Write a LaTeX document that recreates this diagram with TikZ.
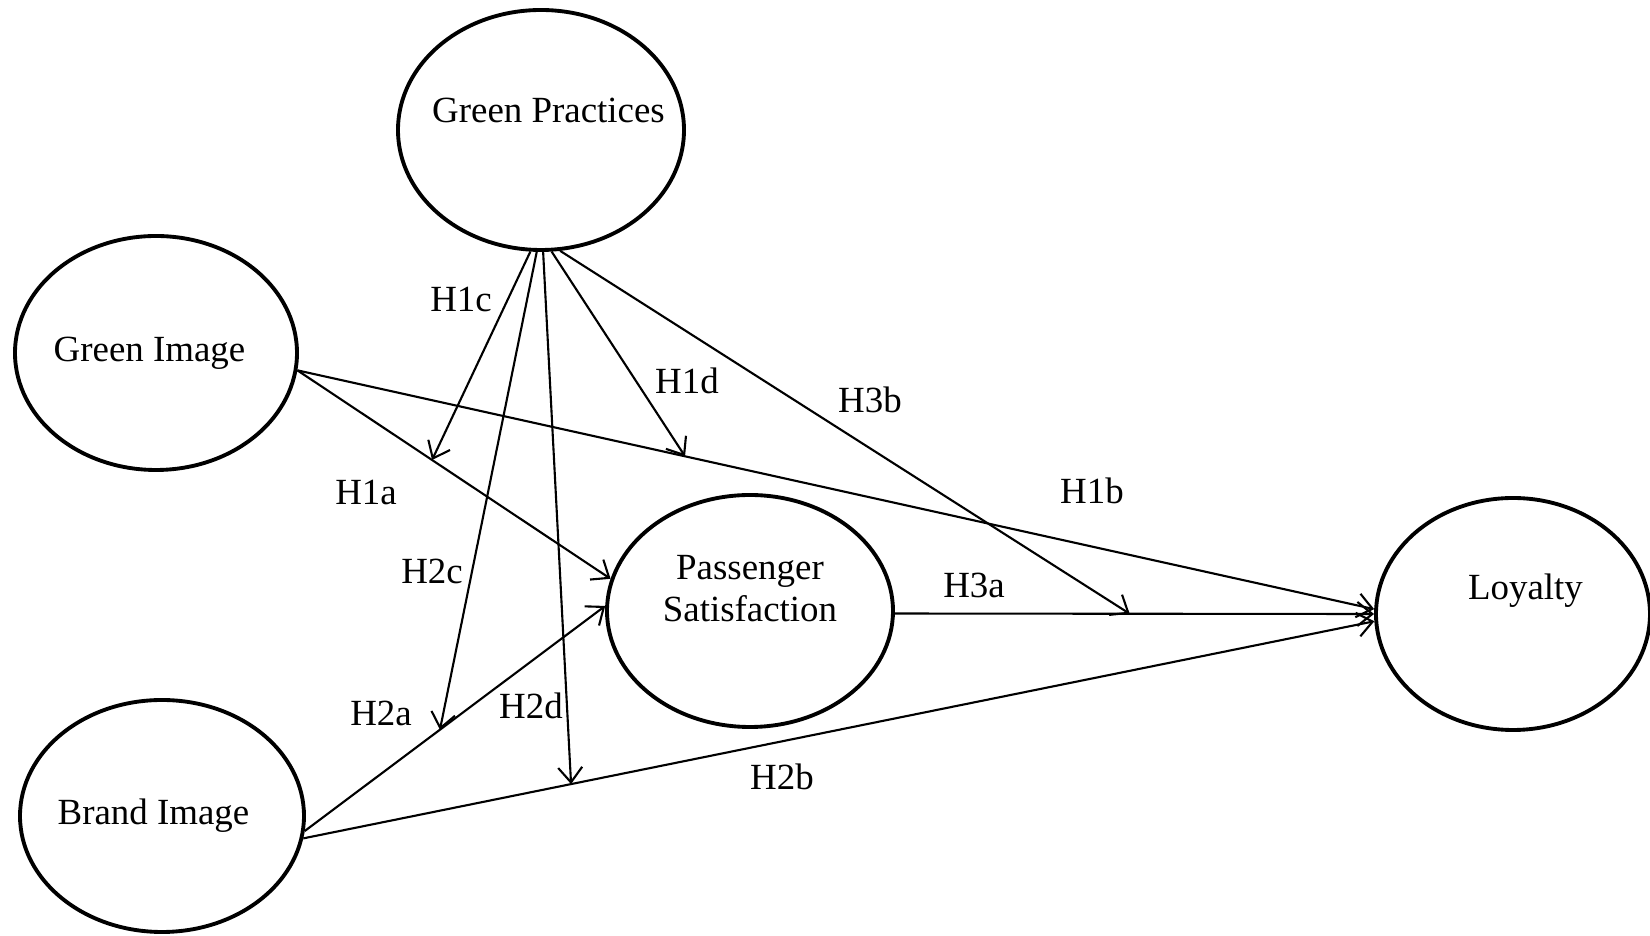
\documentclass[tikz,border=0pt]{standalone}
\usepackage{fontspec}
\setmainfont{Liberation Serif}
\usepackage{tikz}
\usetikzlibrary{arrows.meta,shapes.geometric}

\begin{document}
\begin{tikzpicture}[
    construct/.style={draw,ellipse,line width=1.1pt,inner xsep=-3mm,inner ysep=0pt,align=center,font=\fontsize{10.5}{11.9}\selectfont},
    effect/.style={-{Straight Barb[length=1.5mm,width=2.4mm]},line width=0.6pt},
    hyp/.style={inner sep=0pt,font=\fontsize{10.5}{11.9}\selectfont}
]
\useasboundingbox (0,0) rectangle (16.5,-9.36);

\node[construct,minimum width=2.86cm,minimum height=2.40cm,text depth=4mm] (gp) at (5.41,-1.30) {\hspace*{1.5mm}Green Practices};
\node[construct,minimum width=2.82cm,minimum height=2.34cm] (gi) at (1.56,-3.53) {Green Image\hspace*{1.3mm}};
\node[construct,minimum width=2.84cm,minimum height=2.32cm] (bi) at (1.62,-8.16) {Brand Image\hspace*{1.7mm}};
\node[construct,minimum width=2.86cm,minimum height=2.32cm,text depth=4.5mm] (ps) at (7.50,-6.11) {Passenger\\Satisfaction};
\node[construct,minimum width=2.74cm,minimum height=2.32cm,text depth=5.4mm] (ly) at (15.13,-6.14) {\hspace*{2.5mm}Loyalty};

\draw[effect] (gi.-7) -- coordinate[pos=0.43] (t1c) (ps.167);
\draw[effect] (gi.-7) -- coordinate[pos=0.36] (t1d) (ly.178);
\draw[effect] (bi.-6) -- coordinate[pos=0.45] (t2c) (ps.178);
\draw[effect] (bi.-9) -- coordinate[pos=0.25] (t2d) (ly.183);
\draw[effect] (ps.-1) -- coordinate[pos=0.49] (t3b) (ly.180);

\draw[effect] (gp.265) -- (t1c);
\draw[effect] (gp.268) -- (t2c);
\draw[effect] (gp.271) -- (t2d);
\draw[effect] (gp.275) -- (t1d);
\draw[effect] (gp.279) -- (t3b);

\node[hyp] (h1c) at (4.61,-3.00) {H1c};
\node[hyp] (h1d) at (6.87,-3.81) {H1d};
\node[hyp] (h3b) at (8.70,-4.00) {H3b};
\node[hyp] (h1a) at (3.66,-4.93) {H1a};
\node[hyp] (h1b) at (10.92,-4.91) {H1b};
\node[hyp] (h2c) at (4.32,-5.71) {H2c};
\node[hyp] (h3a) at (9.74,-5.85) {H3a};
\node[hyp] (h2a) at (3.81,-7.13) {H2a};
\node[hyp] (h2d) at (5.31,-7.06) {H2d};
\node[hyp] (h2b) at (7.82,-7.77) {H2b};
\end{tikzpicture}
\end{document}
